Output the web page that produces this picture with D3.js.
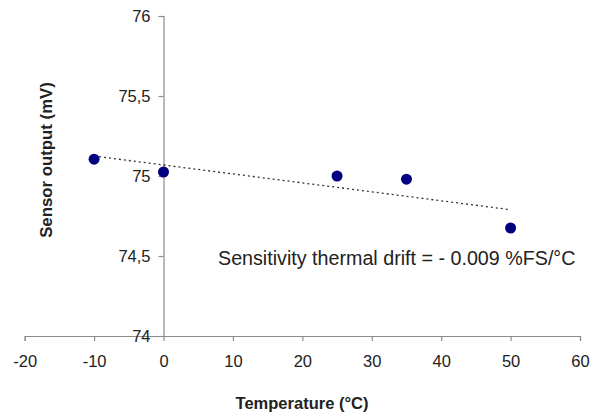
<!DOCTYPE html>
<html>
<head>
<meta charset="utf-8">
<script src="https://cdn.jsdelivr.net/npm/d3@7"></script>
<style>
  body { margin: 0; background: #fff; }
  text { font-family: "Liberation Sans", Arial, sans-serif; fill: #222; }
</style>
</head>
<body>
<div id="graph-container"></div>
<script>
// Data
const temperatures = [-10, 0, 25, 35, 50];
const outputs = [75.105, 75.025, 75.0, 74.98, 74.675];
const xTicks = [-20, -10, 0, 10, 20, 30, 40, 50, 60];
const yTicks = [74, 74.5, 75, 75.5, 76];
const note = "Sensitivity thermal drift = - 0.009 %FS/°C";

const width = 599, height = 416;

const x = d3.scaleLinear().domain([-20, 60]).range([24.7, 580]);
const y = d3.scaleLinear().domain([74, 76]).range([336, 16]);

const svg = d3.select("#graph-container")
    .append("svg")
        .attr("width", width)
        .attr("height", height);

const fmt = d => String(d).replace(".", ",");

// x-axis along y = 74
const xAxis = svg.append("g")
    .attr("transform", `translate(0,${y(74)})`)
    .call(d3.axisBottom(x).tickValues(xTicks).tickSize(5).tickPadding(14).tickFormat(d => d));

// y-axis crossing at x = 0
const yAxis = svg.append("g")
    .attr("transform", `translate(${x(0)},0)`)
    .call(d3.axisLeft(y).tickValues(yTicks).tickSize(5).tickPadding(8).tickFormat(fmt));

[xAxis, yAxis].forEach(g => {
    g.select(".domain").attr("stroke", "#8c8c8c").attr("stroke-width", 1.2);
    g.selectAll(".tick line").attr("stroke", "#8c8c8c").attr("stroke-width", 1.2);
    g.selectAll(".tick text")
        .attr("font-family", "'Liberation Sans', Arial, sans-serif")
        .attr("font-size", 16.5)
        .attr("fill", "#222");
});
xAxis.selectAll(".tick text").attr("dy", "0.71em");

// Linear trend line
const mx = d3.mean(temperatures), my = d3.mean(outputs);
const slope = d3.sum(temperatures, (t, i) => (t - mx) * (outputs[i] - my)) /
              d3.sum(temperatures, t => (t - mx) ** 2);
const fit = t => my + slope * (t - mx);
const ext = d3.extent(temperatures);

svg.append("path")
    .datum(ext)
    .attr("fill", "none")
    .attr("stroke", "#333")
    .attr("stroke-width", 1.3)
    .attr("stroke-dasharray", "2,3")
    .attr("d", d3.line().x(t => x(t)).y(t => y(fit(t))));

// Points
svg.selectAll("circle")
    .data(temperatures)
    .join("circle")
        .attr("cx", d => x(d))
        .attr("cy", (d, i) => y(outputs[i]))
        .attr("r", 5.5)
        .attr("fill", "#000080");

// Annotation
svg.append("text")
    .attr("x", 218)
    .attr("y", 265)
    .attr("font-size", 19.7)
    .text(note);

// Axis titles
svg.append("text")
    .attr("x", 302)
    .attr("y", 409)
    .attr("text-anchor", "middle")
    .attr("font-size", 16.5)
    .attr("font-weight", "bold")
    .attr("fill", "#111")
    .text("Temperature (°C)");

svg.append("text")
    .attr("transform", `translate(52,160) rotate(-90)`)
    .attr("text-anchor", "middle")
    .attr("font-size", 16.8)
    .attr("font-weight", "bold")
    .attr("fill", "#111")
    .text("Sensor output (mV)");
</script>
</body>
</html>
